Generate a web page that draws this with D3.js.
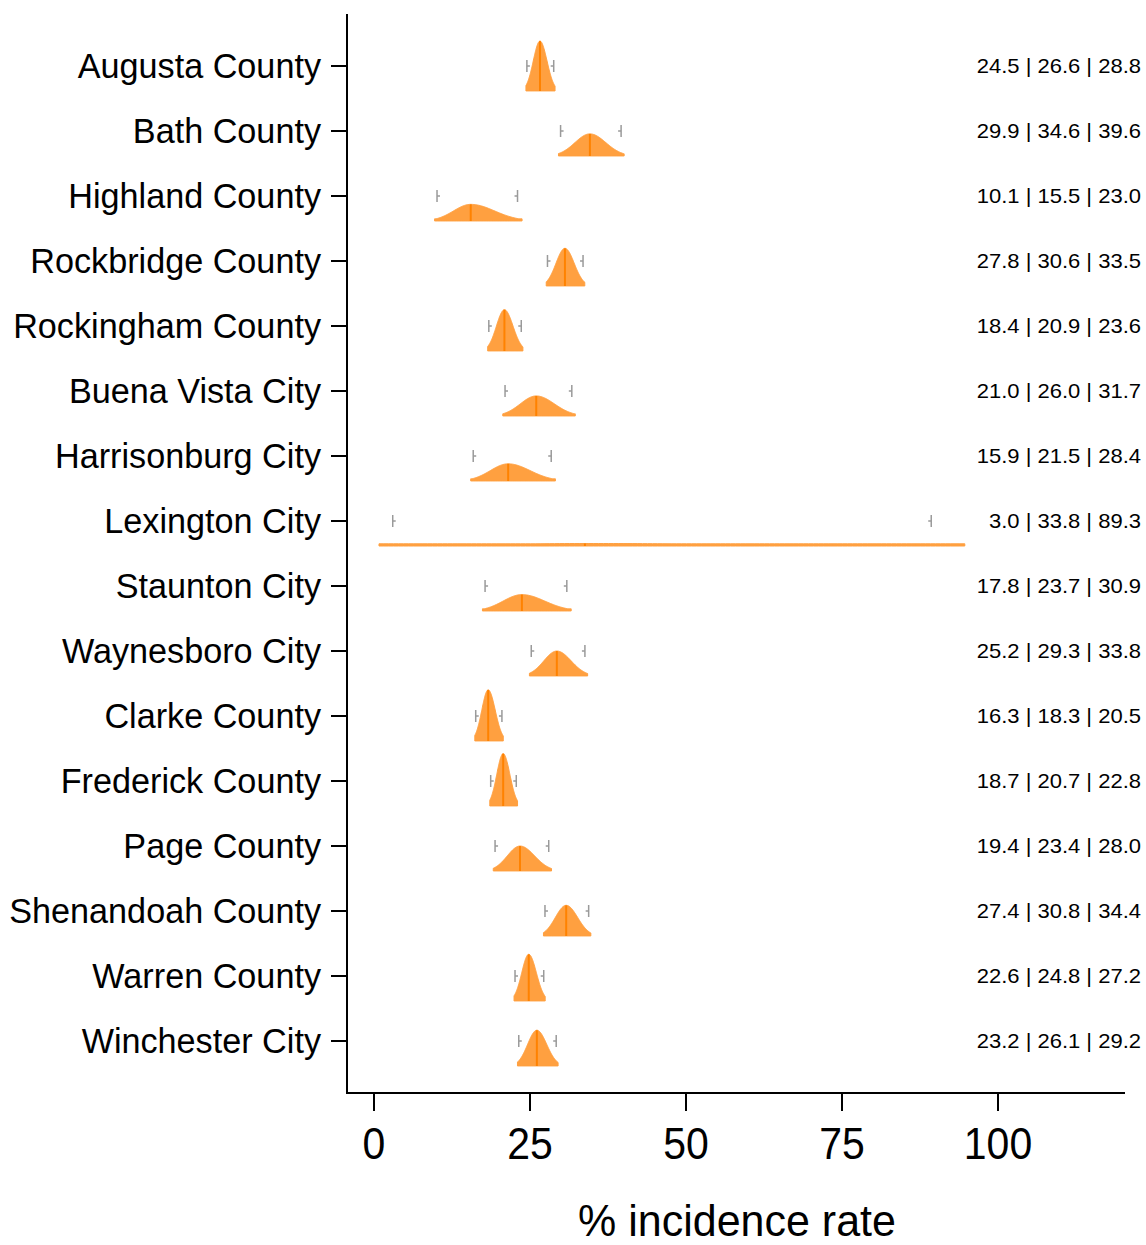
<!DOCTYPE html>
<html>
<head>
<meta charset="utf-8">
<script src="https://cdn.jsdelivr.net/npm/d3@7"></script>
<style>
  html, body { margin: 0; padding: 0; background: #fff; }
  svg { display: block; font-family: "Liberation Sans", Arial, sans-serif; }
</style>
</head>
<body>
<svg id="chart" width="1146" height="1245"></svg>
<script>
const categories = ["Augusta County","Bath County","Highland County","Rockbridge County","Rockingham County","Buena Vista City","Harrisonburg City","Lexington City","Staunton City","Waynesboro City","Clarke County","Frederick County","Page County","Shenandoah County","Warren County","Winchester City"];
const lower  = [24.5, 29.9, 10.1, 27.8, 18.4, 21.0, 15.9,  3.0, 17.8, 25.2, 16.3, 18.7, 19.4, 27.4, 22.6, 23.2];
const median = [26.6, 34.6, 15.5, 30.6, 20.9, 26.0, 21.5, 33.8, 23.7, 29.3, 18.3, 20.7, 23.4, 30.8, 24.8, 26.1];
const upper  = [28.8, 39.6, 23.0, 33.5, 23.6, 31.7, 28.4, 89.3, 30.9, 33.8, 20.5, 22.8, 28.0, 34.4, 27.2, 29.2];
const xTicks = [0, 25, 50, 75, 100];
const xTitle = "% incidence rate";

const svg = d3.select("#chart");
const x = d3.scaleLinear().domain([0, 100]).range([374, 998]);
const y = d3.scaleBand().domain(categories).range([33.5, 1073.5]).padding(0);
const yc = c => y(c) + y.bandwidth() / 2;

const axisLeftX = 347, axisBottomY = 1093;

// density shapes (split normal from CI values)
const K = 54.75;
const fill = "rgb(255,160,64)";
const medCol = "rgb(255,130,0)";

categories.forEach((c, i) => {
  const m = median[i];
  const sl = (m - lower[i]) / 1.96, sr = (upper[i] - m) / 1.96;
  const peak = K / ((sl + sr) / 2);
  const base = yc(c) + 25;
  const x0 = m - 2.1 * sl, x1 = m + 2.15 * sr;
  const dens = v => {
    const s = v < m ? sl : sr;
    return peak * Math.exp(-0.5 * ((v - m) / s) ** 2);
  };
  const n = 120;
  const pts = d3.range(n + 1).map(k => x0 + (x1 - x0) * k / n);
  const area = d3.area().x(v => x(v)).y0(base).y1(v => base - Math.max(dens(v), 2.2));
  svg.append("path").attr("d", area(pts))
    .attr("fill", fill).attr("stroke", fill).attr("stroke-width", 1).attr("stroke-linejoin", "round");
  svg.append("line")
    .attr("x1", x(m)).attr("x2", x(m))
    .attr("y1", base).attr("y2", base - dens(m))
    .attr("stroke", medCol).attr("stroke-width", 2);

  const cy = yc(c);
  const g = svg.append("g").attr("stroke", "#9a9a9a").attr("stroke-width", 1.5);
  g.append("line").attr("x1", x(lower[i])).attr("x2", x(lower[i])).attr("y1", cy - 6).attr("y2", cy + 6);
  g.append("line").attr("x1", x(lower[i])).attr("x2", x(lower[i]) + 3).attr("y1", cy).attr("y2", cy);
  g.append("line").attr("x1", x(upper[i])).attr("x2", x(upper[i])).attr("y1", cy - 6).attr("y2", cy + 6);
  g.append("line").attr("x1", x(upper[i])).attr("x2", x(upper[i]) - 3).attr("y1", cy).attr("y2", cy);

  svg.append("text")
    .attr("transform", `translate(1141,${cy + 7}) scale(1.1,1)`)
    .attr("text-anchor", "end")
    .attr("font-size", 20).attr("fill", "#000")
    .text(`${lower[i].toFixed(1)} | ${m.toFixed(1)} | ${upper[i].toFixed(1)}`);
});

svg.append("line").attr("x1", axisLeftX).attr("x2", axisLeftX).attr("y1", 14).attr("y2", axisBottomY + 1)
  .attr("stroke", "#000").attr("stroke-width", 2);
svg.append("line").attr("x1", axisLeftX - 1).attr("x2", 1125).attr("y1", axisBottomY).attr("y2", axisBottomY)
  .attr("stroke", "#000").attr("stroke-width", 2);

categories.forEach(c => {
  svg.append("line").attr("x1", 331).attr("x2", axisLeftX).attr("y1", yc(c)).attr("y2", yc(c))
    .attr("stroke", "#000").attr("stroke-width", 2);
  svg.append("text").attr("x", 321).attr("y", yc(c) + 12)
    .attr("text-anchor", "end").attr("font-size", 34.2).attr("fill", "#000").text(c);
});

xTicks.forEach(t => {
  svg.append("line").attr("x1", x(t)).attr("x2", x(t)).attr("y1", axisBottomY).attr("y2", 1111)
    .attr("stroke", "#000").attr("stroke-width", 2);
  svg.append("text")
    .attr("transform", `translate(${x(t)},1159) scale(1,1.1)`)
    .attr("text-anchor", "middle").attr("font-size", 41).attr("fill", "#000").text(t);
});

svg.append("text")
  .attr("transform", `translate(737,1236) scale(1,1.05)`)
  .attr("text-anchor", "middle").attr("font-size", 43).attr("fill", "#000").text(xTitle);
</script>
</body>
</html>
